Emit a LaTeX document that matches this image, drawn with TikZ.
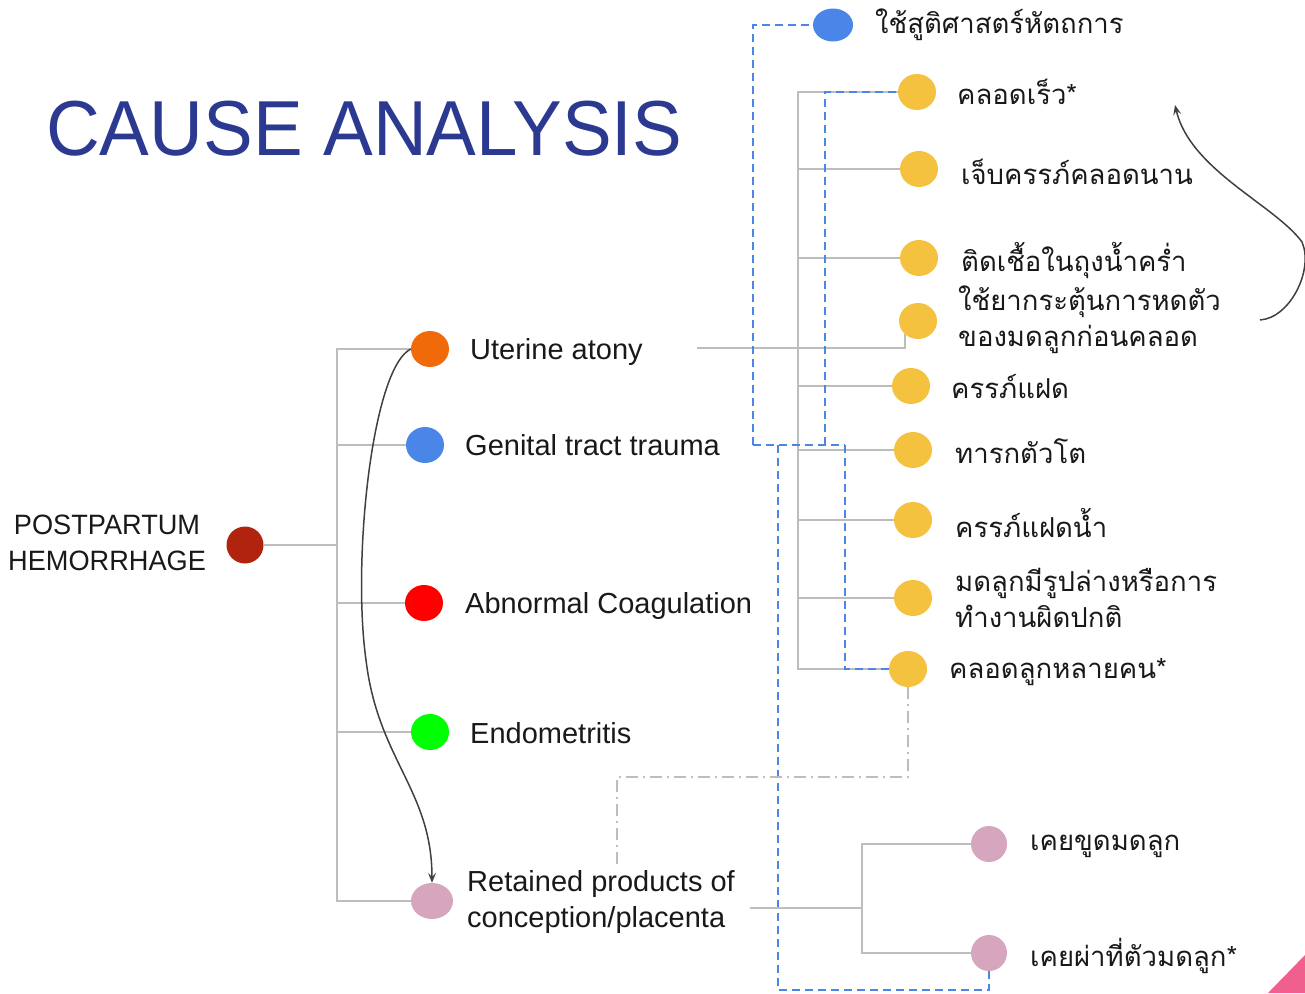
\documentclass[tikz,border=0pt]{standalone}
\usepackage{fontspec}
\setmainfont{Liberation Sans}
\newfontfamily\thai[Script=Thai]{Loma}
\usetikzlibrary{shapes.geometric,arrows.meta}
\definecolor{pphc}{HTML}{B0230E}
\definecolor{orangec}{HTML}{F06A0A}
\definecolor{bluec}{HTML}{4A86E8}
\definecolor{redc}{HTML}{FF0000}
\definecolor{greenc}{HTML}{00FF00}
\definecolor{pinkc}{HTML}{D5A6BD}
\definecolor{yellowc}{HTML}{F4C23E}
\definecolor{treec}{HTML}{BDBDBD}
\definecolor{titlec}{HTML}{2B3990}
\definecolor{tric}{HTML}{F0608E}
\definecolor{arrc}{HTML}{404040}
\tikzset{
  dot/.style={ellipse,minimum width=38pt,minimum height=36pt,inner sep=0pt,draw=none},
  lab/.style={inner sep=0pt,font=\fontsize{29}{36}\selectfont,text=black!90,align=left},
  tlab/.style={inner sep=0pt,font=\thai\fontsize{27.5}{36}\selectfont,text=black!90,align=left,anchor=west},
  tree/.style={draw=treec,line width=1.8pt},
  bl/.style={draw=bluec,line width=1.8pt,dash pattern=on 8pt off 5pt},
  dd/.style={draw=treec,line width=1.8pt,dash pattern=on 12pt off 5pt on 2pt off 5pt},
  arr/.style={draw=arrc,line width=1.5pt,-{Stealth[length=10pt,width=8pt,inset=4pt]}}
}
\begin{document}
\begin{tikzpicture}[x=1pt,y=-1pt]
\useasboundingbox (0,0) rectangle (1305,993);
% title
\node[inner sep=0pt,anchor=base west,text=titlec,font=\fontsize{78}{90}\selectfont] (title) at (46,155) {\scalebox{0.955}[1]{CAUSE ANALYSIS}};
% left tree
\node[dot,fill=pphc,minimum width=37pt,minimum height=37pt] (pph) at (245,545) {};
\node[lab,anchor=west,align=center,font=\fontsize{28}{36}\selectfont] (pphtext) at (8,543) {\scalebox{0.97}[1]{POSTPARTUM}\\\scalebox{0.97}[1]{HEMORRHAGE}};
\node[dot,fill=orangec] (ua) at (430,349) {};
\node[dot,fill=bluec] (gt) at (425,445) {};
\node[dot,fill=redc] (ac) at (424,603) {};
\node[dot,fill=greenc] (en) at (430,732) {};
\node[dot,fill=pinkc,minimum width=42pt] (rp) at (432,901) {};
\node[lab,anchor=base west] (uat) at (470,359) {Uterine atony};
\node[lab,anchor=base west] (gtt) at (465,455) {Genital tract trauma};
\node[lab,anchor=base west] (act) at (465,613) {Abnormal Coagulation};
\node[lab,anchor=base west] (ent) at (470,743) {Endometritis};
\node[lab,anchor=west] (rpt) at (467,902) {Retained products of\\conception/placenta};
% right nodes
\node[dot,fill=bluec,minimum width=40pt,minimum height=33pt] (obs) at (833,25) {};
\node[dot,fill=yellowc] (y1) at (917,92) {};
\node[dot,fill=yellowc] (y2) at (919,169) {};
\node[dot,fill=yellowc] (y3) at (919,258) {};
\node[dot,fill=yellowc] (y4) at (918,321) {};
\node[dot,fill=yellowc] (y5) at (911,386) {};
\node[dot,fill=yellowc] (y6) at (913,450) {};
\node[dot,fill=yellowc] (y7) at (913,520) {};
\node[dot,fill=yellowc] (y8) at (913,598) {};
\node[dot,fill=yellowc] (y9) at (908,669) {};
\node[dot,fill=pinkc,minimum width=36pt] (p1) at (989,844) {};
\node[dot,fill=pinkc,minimum width=36pt] (p2) at (989,953) {};
\node[tlab] (obst) at (875,25) {ใช้สูติศาสตร์หัตถการ};
\node[tlab] (y1t) at (957,92) {คลอดเร็ว*};
\node[tlab] (y2t) at (961,172) {เจ็บครรภ์คลอดนาน};
\node[tlab] (y3t) at (961,261) {ติดเชื้อในถุงน้ำคร่ำ};
\node[tlab] (y4t) at (958,320) {ใช้ยากระตุ้นการหดตัว\\ของมดลูกก่อนคลอด};
\node[tlab] (y5t) at (951,387) {ครรภ์แฝด};
\node[tlab] (y6t) at (955,451) {ทารกตัวโต};
\node[tlab] (y7t) at (955,523) {ครรภ์แฝดน้ำ};
\node[tlab] (y8t) at (955,598) {มดลูกมีรูปล่างหรือการ\\ทำงานผิดปกติ};
\node[tlab] (y9t) at (949,672) {คลอดลูกหลายคน*};
\node[tlab] (p1t) at (1030,846) {เคยขูดมดลูก};
\node[tlab] (p2t) at (1030,956) {เคยผ่าที่ตัวมดลูก*};
% left tree connectors
\coordinate (lj) at (337,545);
\draw[tree] (pph.east) -- (lj);
\foreach \n in {ua,gt,ac,en,rp} \draw[tree] (lj) |- (\n.west);
% uterine atony tree
\coordinate (uaj) at (697,348);
\coordinate (rj) at (798,348);
\draw[tree] (uaj) -- (rj);
\foreach \n in {y1,y2,y3,y5,y6,y7,y8,y9} \draw[tree] (rj) |- (\n.west);
\draw[tree] (rj) -| (y4.-135);
% genital tract trauma dashed links
\coordinate (gj) at (753,445);
\coordinate (gj2) at (825,445);
\coordinate (gj3) at (845,445);
\coordinate (gj4) at (778,445);
\coordinate (gb) at (778,990);
\draw[bl] (gj) |- (obs.west);
\draw[bl] (gj) -- (gj3);
\draw[bl] (gj2) |- (y1.west);
\draw[bl] (gj3) |- (y9.west);
\draw[bl] (gj4) -- (gb) -| (p2.south);
% dash-dot link
\coordinate (ddc) at (908,777);
\coordinate (rptop) at (617,866);
\draw[dd] (y9.south) -- (ddc) -| (rptop);
% retained tree
\coordinate (rpj) at (750,908);
\coordinate (pj) at (862,908);
\draw[tree] (rpj) -- (pj);
\draw[tree] (pj) |- (p1.west);
\draw[tree] (pj) |- (p2.west);
% curved arrows
\draw[arr] (ua.west) .. controls (372,368) and (352,560) .. (366,660) .. controls (378,760) and (432,790) .. (rp.north);
\coordinate (ra) at (1260,320);
\coordinate (rb) at (1175,105);
\draw[arr] (ra) .. controls (1290,318) and (1314,270) .. (1302,242) .. controls (1275,205) and (1190,170) .. (rb);
% corner triangle
\fill[tric] (1268,993) -- (1305,955) -- (1305,993) -- cycle;
\end{tikzpicture}
\end{document}
